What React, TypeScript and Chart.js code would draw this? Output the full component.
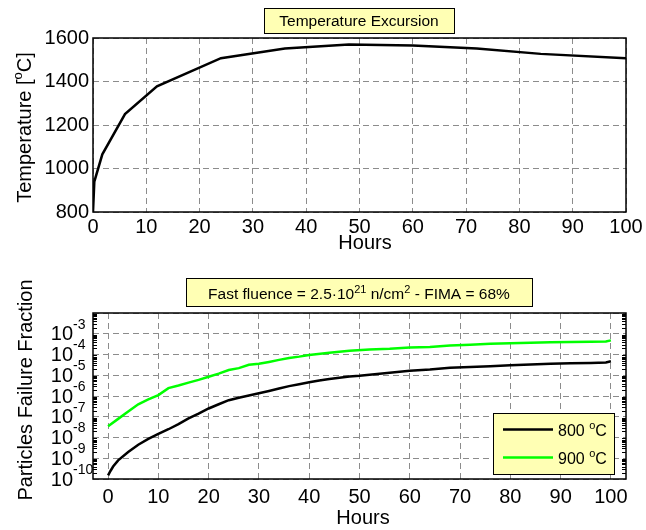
import React, { useEffect, useRef } from 'react';
import { Chart, registerables } from 'chart.js';

Chart.register(...registerables);

const FONT = '"Liberation Sans", Arial, Helvetica, sans-serif';

// ---- Top panel: temperature excursion ----
const tempHours = [0, 0.25, 1.75, 6, 12, 24, 36, 48, 60, 72, 84, 100];
const tempValues = [800, 940, 1065, 1250, 1378, 1507, 1552, 1570, 1565, 1552, 1527, 1507];
const tempXTicks = [0, 10, 20, 30, 40, 50, 60, 70, 80, 90, 100];
const tempYTicks = [800, 1000, 1200, 1400, 1600];

// ---- Bottom panel: particles failure fraction ----
const hours800 = [0, 0.5, 1, 2, 4, 6, 8, 10, 12, 14, 16, 18, 20, 22, 24, 26, 28, 30, 32, 34, 36, 38, 40, 42, 44, 46, 48, 50, 52, 55, 58, 60, 64, 68, 72, 76, 80, 84, 88, 92, 96, 99, 100];
const fail800 = [1.5e-10, 2.5e-10, 4.0e-10, 7.9e-10, 2.0e-9, 4.5e-9, 8.5e-9, 1.5e-8, 2.5e-8, 4.4e-8, 8.3e-8, 1.4e-7, 2.5e-7, 4.0e-7, 6.3e-7, 8.3e-7, 1.05e-6, 1.35e-6, 1.74e-6, 2.3e-6, 3.0e-6, 3.7e-6, 4.6e-6, 5.6e-6, 6.6e-6, 7.6e-6, 8.7e-6, 9.5e-6, 1.07e-5, 1.26e-5, 1.48e-5, 1.66e-5, 1.9e-5, 2.3e-5, 2.5e-5, 2.7e-5, 3.0e-5, 3.3e-5, 3.55e-5, 3.8e-5, 3.9e-5, 4.1e-5, 4.7e-5];
const hours900 = [0, 2, 4, 6, 8, 10, 12, 14, 16, 18, 20, 22, 24, 26, 28, 30, 32, 34, 36, 38, 40, 44, 48, 52, 56, 60, 64, 68, 72, 76, 80, 84, 88, 92, 96, 99, 100];
const fail900 = [3.5e-8, 7.9e-8, 1.8e-7, 4.0e-7, 6.8e-7, 1.1e-6, 2.4e-6, 3.2e-6, 4.4e-6, 6.0e-6, 8.5e-6, 1.2e-5, 1.8e-5, 2.2e-5, 3.2e-5, 3.6e-5, 4.4e-5, 5.5e-5, 6.8e-5, 7.9e-5, 9.5e-5, 1.2e-4, 1.5e-4, 1.74e-4, 1.9e-4, 2.2e-4, 2.3e-4, 2.75e-4, 2.95e-4, 3.3e-4, 3.5e-4, 3.7e-4, 3.9e-4, 4.0e-4, 4.1e-4, 4.2e-4, 4.8e-4];
const failXTicks = [0, 10, 20, 30, 40, 50, 60, 70, 80, 90, 100];
const failYTicks = [1e-10, 1e-9, 1e-8, 1e-7, 1e-6, 1e-5, 1e-4, 1e-3, 1e-2];
const failYLabelTicks = [1e-10, 1e-9, 1e-8, 1e-7, 1e-6, 1e-5, 1e-4, 1e-3];
const failYLabelExps = ['-10', '-9', '-8', '-7', '-6', '-5', '-4', '-3'];
const minorMultipliers = [2, 3, 4, 5, 6, 7, 8, 9];
const legendLabels = ['800 ', '900 '];
const seriesColors = ['#000000', '#00ff00'];

const BOX_FILL = '#ffffb4';
const GRID_COLOR = '#8c8c8c';

type Seg = { t: string; sup?: boolean };

function drawRich(
  ctx: CanvasRenderingContext2D,
  segs: Seg[],
  x: number,
  y: number,
  size: number,
  supSize: number,
  supRise: number,
  align: 'left' | 'center'
) {
  ctx.textBaseline = 'alphabetic';
  ctx.textAlign = 'left';
  const widths = segs.map((s) => {
    ctx.font = `${s.sup ? supSize : size}px ${FONT}`;
    return ctx.measureText(s.t).width;
  });
  const total = widths.reduce((a, b) => a + b, 0);
  let cx = align === 'center' ? x - total / 2 : x;
  segs.forEach((s, i) => {
    ctx.font = `${s.sup ? supSize : size}px ${FONT}`;
    ctx.fillText(s.t, cx, s.sup ? y - supRise : y);
    cx += widths[i];
  });
}

function drawBox(ctx: CanvasRenderingContext2D, x: number, y: number, w: number, h: number) {
  ctx.save();
  ctx.fillStyle = BOX_FILL;
  ctx.fillRect(x, y, w, h);
  ctx.strokeStyle = '#000';
  ctx.lineWidth = 1;
  ctx.strokeRect(x + 0.5, y + 0.5, w, h);
  ctx.restore();
}

const overlayTop = {
  id: 'overlayTop',
  afterDraw(chart: any) {
    const ctx: CanvasRenderingContext2D = chart.ctx;
    const a = chart.chartArea;
    ctx.save();
    ctx.strokeStyle = '#000';
    ctx.lineWidth = 1.5;
    ctx.strokeRect(a.left, a.top, a.right - a.left, a.bottom - a.top);
    // title box
    drawBox(ctx, 264, 8, 190, 25);
    ctx.fillStyle = '#000';
    drawRich(ctx, [{ t: 'Temperature Excursion' }], 359, 26, 15.5, 11, 6, 'center');
    // x title
    drawRich(ctx, [{ t: 'Hours' }], 365, 249, 20, 13, 8, 'center');
    // y title
    ctx.save();
    ctx.translate(31, 127.5);
    ctx.rotate(-Math.PI / 2);
    drawRich(ctx, [{ t: 'Temperature [' }, { t: 'o', sup: true }, { t: 'C]' }], 0, 0, 20, 13, 9, 'center');
    ctx.restore();
    ctx.restore();
  },
};

const overlayBottom = {
  id: 'overlayBottom',
  afterDraw(chart: any) {
    const ctx: CanvasRenderingContext2D = chart.ctx;
    const a = chart.chartArea;
    const ys = chart.scales.y;
    ctx.save();
    // minor ticks
    ctx.strokeStyle = '#000';
    ctx.lineWidth = 1;
    ctx.beginPath();
    for (let i = 0; i < failYLabelTicks.length; i++) {
      for (const m of minorMultipliers) {
        const v = failYLabelTicks[i] * m;
        const py = Math.round(ys.getPixelForValue(v)) + 0.5;
        ctx.moveTo(a.left, py);
        ctx.lineTo(a.left + 4, py);
        ctx.moveTo(a.right, py);
        ctx.lineTo(a.right - 4, py);
      }
    }
    ctx.stroke();
    // border
    ctx.lineWidth = 1.5;
    ctx.strokeRect(a.left, a.top, a.right - a.left, a.bottom - a.top);
    // y tick labels 10^n
    ctx.fillStyle = '#000';
    failYLabelTicks.forEach((v, i) => {
      const py = ys.getPixelForValue(v);
      ctx.font = `20px ${FONT}`;
      ctx.textAlign = 'right';
      ctx.textBaseline = 'middle';
      ctx.fillText('10', 73, py + 1);
      ctx.font = `14px ${FONT}`;
      ctx.textAlign = 'left';
      ctx.fillText(failYLabelExps[i], 73, py - 9);
    });
    // title box
    drawBox(ctx, 186, 18, 346, 28);
    ctx.fillStyle = '#000';
    drawRich(
      ctx,
      [
        { t: 'Fast fluence = 2.5\u00b710' },
        { t: '21', sup: true },
        { t: ' n/cm' },
        { t: '2', sup: true },
        { t: ' - FIMA = 68%' },
      ],
      359,
      38.5,
      15.5,
      11,
      6,
      'center'
    );
    // legend
    drawBox(ctx, 493, 153, 121, 61);
    const rowsY = [169.5, 197.5];
    rowsY.forEach((ry, i) => {
      ctx.strokeStyle = seriesColors[i];
      ctx.lineWidth = 2.5;
      ctx.beginPath();
      ctx.moveTo(503, ry);
      ctx.lineTo(553, ry);
      ctx.stroke();
      ctx.fillStyle = '#000';
      drawRich(ctx, [{ t: legendLabels[i] }, { t: 'o', sup: true }, { t: 'C' }], 558, ry + 6, 16, 11, 7, 'left');
    });
    // x title
    drawRich(ctx, [{ t: 'Hours' }], 363, 264, 20, 13, 8, 'center');
    // y title
    ctx.save();
    ctx.translate(32, 390 - 260);
    ctx.rotate(-Math.PI / 2);
    drawRich(ctx, [{ t: 'Particles Failure Fraction' }], 0, 0, 20, 13, 8, 'center');
    ctx.restore();
    ctx.restore();
  },
};

export default function App() {
  const topRef = useRef<HTMLCanvasElement>(null);
  const botRef = useRef<HTMLCanvasElement>(null);

  useEffect(() => {
    const tickFont = { family: FONT, size: 20 };
    const plain = (v: any) => String(v);
    const c1 = new Chart(topRef.current as HTMLCanvasElement, {
      type: 'line',
      data: {
        datasets: [
          {
            data: tempHours.map((x, i) => ({ x, y: tempValues[i] })),
            borderColor: '#000',
            borderWidth: 2.5,
            pointRadius: 0,
            tension: 0,
            fill: false,
          },
        ],
      },
      options: {
        responsive: false,
        animation: false,
        events: [],
        layout: { padding: { left: 0, right: 20, top: 38, bottom: 0 } },
        plugins: { legend: { display: false }, tooltip: { enabled: false }, title: { display: false } },
        scales: {
          x: {
            type: 'linear',
            min: 0,
            max: 100,
            afterBuildTicks: (s: any) => {
              s.ticks = tempXTicks.map((v) => ({ value: v }));
            },
            afterFit: (s: any) => {
              s.height = 48;
            },
            grid: { color: GRID_COLOR, drawTicks: false },
            border: { display: false, dash: [6, 4] },
            ticks: { color: '#000', font: tickFont, padding: 3, maxRotation: 0, autoSkip: false, callback: plain },
          },
          y: {
            type: 'linear',
            min: 800,
            max: 1600,
            afterBuildTicks: (s: any) => {
              s.ticks = tempYTicks.map((v) => ({ value: v }));
            },
            afterFit: (s: any) => {
              s.width = 93;
            },
            grid: { color: GRID_COLOR, drawTicks: false },
            border: { display: false, dash: [6, 4] },
            ticks: { color: '#000', font: tickFont, padding: 4, callback: plain },
          },
        },
      } as any,
      plugins: [overlayTop],
    });

    const c2 = new Chart(botRef.current as HTMLCanvasElement, {
      type: 'line',
      data: {
        datasets: [
          {
            label: '800 oC',
            data: hours800.map((x, i) => ({ x, y: fail800[i] })),
            borderColor: seriesColors[0],
            borderWidth: 2.5,
            pointRadius: 0,
            tension: 0,
            fill: false,
          },
          {
            label: '900 oC',
            data: hours900.map((x, i) => ({ x, y: fail900[i] })),
            borderColor: seriesColors[1],
            borderWidth: 2.5,
            pointRadius: 0,
            tension: 0,
            fill: false,
          },
        ],
      },
      options: {
        responsive: false,
        animation: false,
        events: [],
        layout: { padding: { left: 0, right: 20, top: 53, bottom: 0 } },
        plugins: { legend: { display: false }, tooltip: { enabled: false }, title: { display: false } },
        scales: {
          x: {
            type: 'linear',
            min: -3,
            max: 103,
            afterBuildTicks: (s: any) => {
              s.ticks = failXTicks.map((v) => ({ value: v }));
            },
            afterFit: (s: any) => {
              s.height = 51;
            },
            grid: { color: GRID_COLOR, drawTicks: false },
            border: { display: false, dash: [6, 4] },
            ticks: { color: '#000', font: tickFont, padding: 6, maxRotation: 0, autoSkip: false, callback: plain },
          },
          y: {
            type: 'logarithmic',
            min: 1e-10,
            max: 1e-2,
            afterBuildTicks: (s: any) => {
              s.ticks = failYTicks.map((v) => ({ value: v }));
            },
            afterFit: (s: any) => {
              s.width = 93;
            },
            grid: { color: GRID_COLOR, drawTicks: false },
            border: { display: false, dash: [6, 4] },
            ticks: { display: false },
          },
        },
      } as any,
      plugins: [overlayBottom],
    });

    return () => {
      c1.destroy();
      c2.destroy();
    };
  }, []);

  return (
    <div style={{ position: 'absolute', left: 0, top: 0, width: 646, height: 530, background: '#fff' }}>
      <canvas
        ref={topRef}
        width={646}
        height={260}
        style={{ position: 'absolute', left: 0, top: 0, width: 646, height: 260, display: 'block' }}
      />
      <canvas
        ref={botRef}
        width={646}
        height={270}
        style={{ position: 'absolute', left: 0, top: 260, width: 646, height: 270, display: 'block' }}
      />
    </div>
  );
}
